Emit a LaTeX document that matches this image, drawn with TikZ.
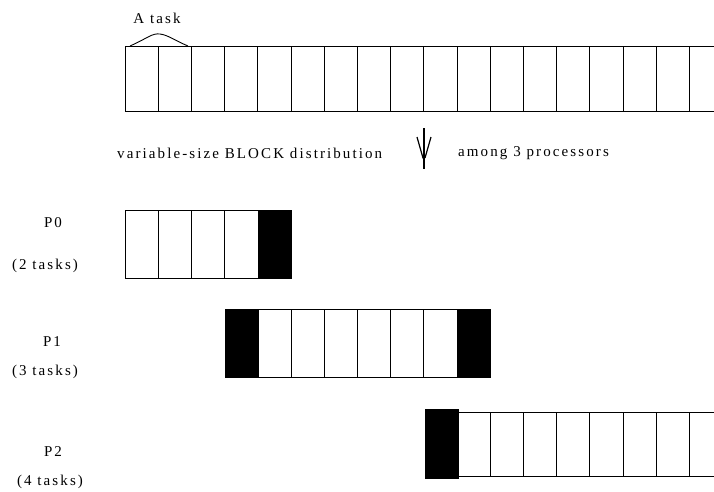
\documentclass[tikz,border=0pt]{standalone}
\usepackage{fontspec}
\setmainfont{Liberation Serif}[LetterSpace=14]
\begin{document}
\begin{tikzpicture}[x=1pt,y=-1pt,
  cell/.style={line width=0.9pt,draw=black},
  blk/.style={fill=black,draw=black,line width=0.9pt},
  lbl/.style={inner sep=0pt,font=\fontsize{15}{17}\selectfont},
]
\useasboundingbox (0,0) rectangle (714,491);
\def\w{33.2}
% ---- top bar
\draw[cell] (714,46) -- (125,46) -- (125,111) -- (714,111);
\foreach \k in {1,...,17} \draw[cell] ({125+\k*\w},46) -- ({125+\k*\w},111);
% task arc
\coordinate (arcL) at (130,46);
\coordinate (arcR) at (188,46);
\draw[line width=0.9pt] (arcL) .. controls (148,38) and (152,33) .. (160,34)
  .. controls (168,35) and (176,41) .. (arcR);
\node[lbl] (task) at (157,18) {A task};
% ---- caption + arrow
\node[lbl,anchor=west] (dist) at (117,153) {variable-size BLOCK distribution};
\node[lbl,anchor=west] (among) at (458,153) {among 3 processors};
\coordinate (aTop) at (424,128);
\coordinate (aBot) at (424,169);
\draw[line width=2pt] (aTop) -- (aBot);
\draw[line width=1.2pt] (417,137) -- (423,158) -- (424,158);
\draw[line width=1.2pt] (431,137) -- (425,158);
% ---- P0
\draw[cell] (125,210) rectangle (258,278);
\foreach \k in {1,2,3} \draw[cell] ({125+\k*\w},210) -- ({125+\k*\w},278);
\draw[blk] (258,210) rectangle (291,278);
\node[lbl] (p0) at (53,223) {P0};
\node[lbl] (p0t) at (45,266) {(2 tasks)};
% ---- P1
\draw[cell] (258,309) rectangle (457,377);
\foreach \k in {5,...,9} \draw[cell] ({125+\k*\w},309) -- ({125+\k*\w},377);
\draw[blk] (225,309) rectangle (258,377);
\draw[blk] (457,309) rectangle (490,377);
\node[lbl] (p1) at (52,342) {P1};
\node[lbl] (p1t) at (45,372) {(3 tasks)};
% ---- P2
\draw[cell] (714,412) -- (458,412) -- (458,476) -- (714,476);
\foreach \k in {11,...,17} \draw[cell] ({125+\k*\w},412) -- ({125+\k*\w},476);
\draw[blk] (425,409) rectangle (458,478);
\node[lbl] (p2) at (53,452) {P2};
\node[lbl] (p2t) at (50,482) {(4 tasks)};
\end{tikzpicture}
\end{document}
